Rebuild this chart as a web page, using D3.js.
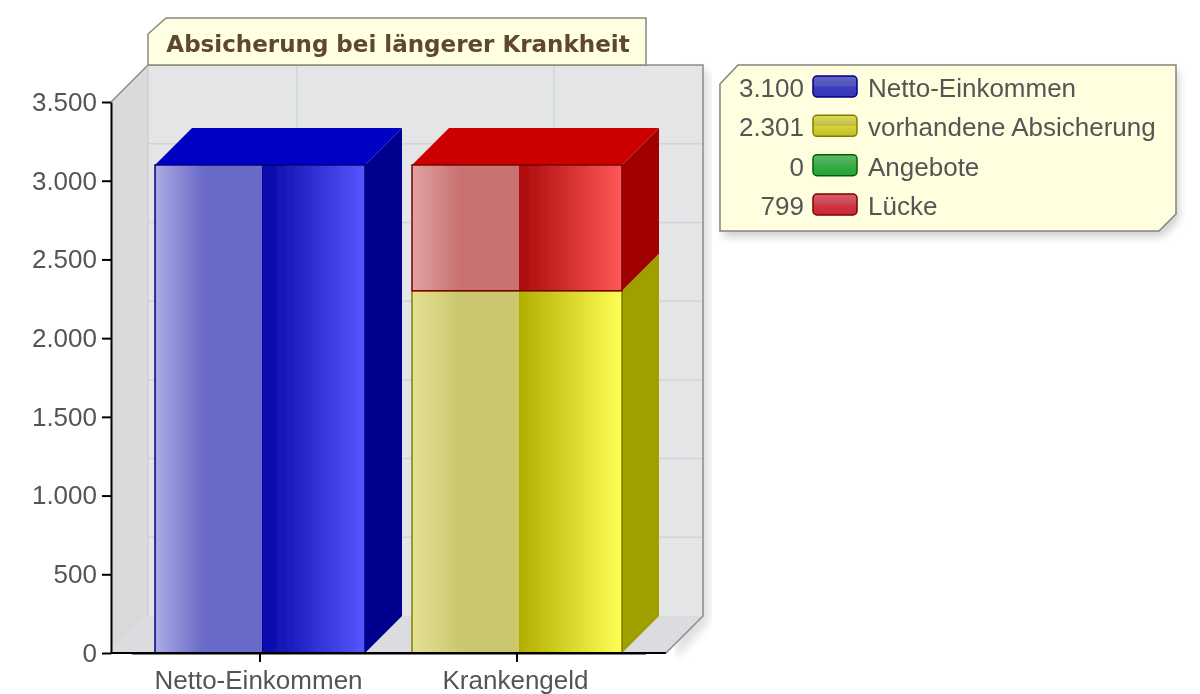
<!DOCTYPE html>
<html>
<head>
<meta charset="utf-8">
<script src="https://cdn.jsdelivr.net/npm/d3@7"></script>
<style>
  html, body { margin: 0; padding: 0; background: #fff; }
  svg { display: block; }
  text { font-family: "Liberation Sans", Arial, sans-serif; }
</style>
</head>
<body>
<div id="chart"></div>
<script>
// chart data
const categories = ["Netto-Einkommen", "Krankengeld"];
const seriesNames = ["Netto-Einkommen", "vorhandene Absicherung", "Angebote", "Lücke"];
const nettoValues = [3100, 0];
const absicherungValues = [0, 2301];
const angeboteValues = [0, 0];
const lueckeValues = [0, 799];
const legendValues = ["3.100", "2.301", "0", "799"];
const yTicks = [0, 500, 1000, 1500, 2000, 2500, 3000, 3500];
const titleText = "Absicherung bei längerer Krankheit";

const seriesValues = [nettoValues, absicherungValues, angeboteValues, lueckeValues];

// face colours per series
const palette = [
  { dark: "#0606a6", light: "#5757ff", paleA: "#acace4", paleB: "#6a6ac8", side: "#00008e", top: "#0000c4", line: "#000080", key: "#3c3cc8" },
  { dark: "#b2ae00", light: "#ffff58", paleA: "#e6e094", paleB: "#cbc76e", side: "#9f9f00", top: "#cccc00", line: "#808000", key: "#d8d230" },
  { dark: "#06a606", light: "#57ff57", paleA: "#ace4ac", paleB: "#6ac86a", side: "#008e00", top: "#00c400", line: "#006000", key: "#30b040" },
  { dark: "#aa0a0a", light: "#ff5858", paleA: "#e2a2a2", paleB: "#c87272", side: "#a00000", top: "#cc0000", line: "#7a0000", key: "#d83040" }
];

const width = 1200;
const height = 694;
const depth = 37;   // 3d offset of the back wall
const plot = { left: 111, right: 666, top: 102, bottom: 653 };
const fontSize = 26;

const svg = d3.select("#chart").append("svg")
    .attr("width", width)
    .attr("height", height);

const y = d3.scaleLinear().domain([0, 3500]).range([plot.bottom, plot.top]);
const x = d3.scaleBand().domain(categories).range([131.5, 645.5])
    .paddingInner(0.183).paddingOuter(0.0915);

const poly = pts => pts.map(p => p.join(",")).join(" ");

const defs = svg.append("defs");
defs.append("filter").attr("id", "shadow")
    .attr("x", "-5%").attr("y", "-5%").attr("width", "112%").attr("height", "115%")
  .append("feGaussianBlur").attr("stdDeviation", 4);
defs.append("filter").attr("id", "soft")
    .attr("x", "-5%").attr("y", "-5%").attr("width", "110%").attr("height", "110%")
  .append("feGaussianBlur").attr("stdDeviation", 0.7);

palette.forEach((c, i) => {
  // the shading only runs over the right half of the front face
  const g = defs.append("linearGradient").attr("id", "face" + i);
  g.append("stop").attr("offset", "0%").attr("stop-color", c.dark);
  g.append("stop").attr("offset", "51%").attr("stop-color", c.dark);
  g.append("stop").attr("offset", "100%").attr("stop-color", c.light);
  const p = defs.append("linearGradient").attr("id", "pale" + i);
  p.append("stop").attr("offset", "0%").attr("stop-color", c.paleA);
  p.append("stop").attr("offset", "45%").attr("stop-color", c.paleB);
  p.append("stop").attr("offset", "100%").attr("stop-color", c.paleB);
  const k = defs.append("linearGradient").attr("id", "key" + i)
      .attr("x1", 0).attr("x2", 0).attr("y1", 0).attr("y2", 1);
  k.append("stop").attr("offset", "0%").attr("stop-color", d3.interpolateRgb(c.key, "#fff")(0.2));
  k.append("stop").attr("offset", "48%").attr("stop-color", d3.interpolateRgb(c.key, "#888")(0.3));
  k.append("stop").attr("offset", "52%").attr("stop-color", c.key);
  k.append("stop").attr("offset", "100%").attr("stop-color", d3.interpolateRgb(c.key, "#000")(0.1));
});

const root = svg.append("g").attr("filter", "url(#soft)");

// drop shadow behind walls and legend
root.append("polygon")
    .attr("points", poly([[plot.right + 10, plot.bottom + 6], [plot.right + depth + 6, plot.bottom - depth + 6], [plot.right + depth + 6, 70], [plot.right + 20, 70]]))
    .attr("fill", "#000").attr("opacity", 0.12).attr("filter", "url(#shadow)");

// walls
const wallTop = y(3500) - depth;
root.append("polygon")
    .attr("points", poly([[plot.left + depth, wallTop], [plot.right + depth, wallTop], [plot.right + depth, plot.bottom - depth], [plot.left + depth, plot.bottom - depth]]))
    .attr("fill", "#e3e5e7");
root.append("polygon")
    .attr("points", poly([[plot.left, y(3500)], [plot.left + depth, wallTop], [plot.left + depth, plot.bottom - depth], [plot.left, plot.bottom]]))
    .attr("fill", "#d9dbdb");
root.append("polygon")
    .attr("points", poly([[plot.left, plot.bottom], [plot.left + depth, plot.bottom - depth], [plot.right + depth, plot.bottom - depth], [plot.right, plot.bottom]]))
    .attr("fill", "#dadcdf");

// grid on the back wall
root.selectAll(".hgrid").data(yTicks.slice(1, -1)).enter().append("line")
    .attr("x1", plot.left + depth).attr("x2", plot.right + depth)
    .attr("y1", d => y(d) - depth).attr("y2", d => y(d) - depth)
    .attr("stroke", "#d2d4d6").attr("stroke-width", 1.5);
root.selectAll(".vgrid").data(categories).enter().append("line")
    .attr("x1", d => x(d) + x.bandwidth() / 2 + depth).attr("x2", d => x(d) + x.bandwidth() / 2 + depth)
    .attr("y1", wallTop).attr("y2", plot.bottom - depth)
    .attr("stroke", "#d2d4d6").attr("stroke-width", 1.5);

// wall outline
root.append("path")
    .attr("d", d3.line()([[plot.left, y(3500)], [plot.left + depth, wallTop], [plot.right + depth, wallTop], [plot.right + depth, plot.bottom - depth], [plot.right, plot.bottom]]))
    .attr("fill", "none").attr("stroke", "#8b8d8b").attr("stroke-width", 1.5);
root.append("line")
    .attr("x1", plot.left + depth).attr("x2", plot.left + depth)
    .attr("y1", wallTop).attr("y2", plot.bottom - depth)
    .attr("stroke", "#c8cacb").attr("stroke-width", 1);

// stacked bars
const rows = categories.map((c, i) => {
  const row = { category: c };
  seriesNames.forEach((s, j) => { row[s] = seriesValues[j][i]; });
  return row;
});
const stacked = d3.stack().keys(seriesNames)(rows);
const bars = root.append("g");

stacked.forEach((layer, i) => {
  const c = palette[i];
  layer.forEach(d => {
    if (d[1] - d[0] <= 0) return;
    const x0 = x(d.data.category);
    const w = x.bandwidth();
    const yTop = y(d[1]);
    const yBase = y(d[0]);
    const g = bars.append("g");
    // right side
    g.append("polygon")
        .attr("points", poly([[x0 + w, yTop], [x0 + w + depth, yTop - depth], [x0 + w + depth, yBase - depth], [x0 + w, yBase]]))
        .attr("fill", c.side);
    // top, only visible on the highest segment
    if (d[1] === d3.sum(seriesValues, v => v[categories.indexOf(d.data.category)])) {
      g.append("polygon")
          .attr("points", poly([[x0, yTop], [x0 + depth, yTop - depth], [x0 + w + depth, yTop - depth], [x0 + w, yTop]]))
          .attr("fill", c.top);
    }
    // front with pale left half
    g.append("rect").attr("x", x0).attr("y", yTop).attr("width", w).attr("height", yBase - yTop)
        .attr("fill", `url(#face${i})`);
    g.append("rect").attr("x", x0).attr("y", yTop).attr("width", w / 2 + 2).attr("height", yBase - yTop)
        .attr("fill", `url(#pale${i})`);
    g.append("rect").attr("x", x0).attr("y", yTop).attr("width", w).attr("height", yBase - yTop)
        .attr("fill", "none").attr("stroke", c.line).attr("stroke-width", 1.5);
  });
});

// axes
const yAxis = root.append("g").attr("transform", `translate(${plot.left},0)`)
    .call(d3.axisLeft(y).tickValues(yTicks).tickSize(9).tickPadding(5).tickSizeOuter(0)
      .tickFormat(d => d3.format(",")(d).replace(",", ".")));
const xAxis = root.append("g").attr("transform", `translate(0,${plot.bottom})`)
    .call(d3.axisBottom(x).tickSize(9).tickPadding(9).tickSizeOuter(0));
xAxis.selectAll("text").attr("dx", -1.5);
root.append("line").attr("x1", plot.left).attr("x2", plot.right).attr("y1", plot.bottom).attr("y2", plot.bottom)
    .attr("stroke", "#000").attr("stroke-width", 2);
[yAxis, xAxis].forEach(a => {
  a.selectAll("line").attr("stroke", "#000").attr("stroke-width", 2);
  a.selectAll("path").attr("stroke", "#000").attr("stroke-width", 2);
  a.selectAll("text").attr("fill", "#555").attr("font-size", fontSize)
      .attr("font-family", "'Liberation Sans', Arial, sans-serif");
});

// title tab
root.append("polygon")
    .attr("points", poly([[148, 34], [166, 18], [646, 18], [646, 65], [148, 65]]))
    .attr("fill", "#ffffe3").attr("stroke", "#8a8a78").attr("stroke-width", 1.5);
root.append("text").attr("x", 398).attr("y", 52).attr("text-anchor", "middle")
    .attr("font-size", 23).attr("font-weight", "bold")
    .style("font-family", "'DejaVu Sans', sans-serif")
    .attr("fill", "#5f4630").text(titleText);

// legend
const legendPts = [[720, 84], [738, 65], [1176, 65], [1176, 214], [1159, 231], [720, 231]];
root.append("polygon")
    .attr("points", poly(legendPts.map(p => [p[0] + 3, p[1] + 6])))
    .attr("fill", "#000").attr("opacity", 0.18).attr("filter", "url(#shadow)");
root.append("polygon")
    .attr("points", poly(legendPts))
    .attr("fill", "#ffffe0").attr("stroke", "#84847a").attr("stroke-width", 1.5);

const rowY = d3.scalePoint().domain(seriesNames).range([87, 205]);
const legendRow = root.selectAll(".legend-row").data(seriesNames).enter().append("g")
    .attr("transform", d => `translate(0,${rowY(d)})`);
legendRow.append("text").attr("x", 804).attr("y", 10).attr("text-anchor", "end")
    .attr("font-size", fontSize).attr("fill", "#555")
    .text((d, i) => legendValues[i]);
legendRow.append("rect").attr("x", 813).attr("y", -11).attr("width", 44).attr("height", 21).attr("rx", 4)
    .attr("fill", (d, i) => `url(#key${i})`)
    .attr("stroke", (d, i) => palette[i].line).attr("stroke-width", 1.5);
legendRow.append("text").attr("x", 868).attr("y", 10)
    .attr("font-size", fontSize).attr("fill", "#555")
    .text(d => d);
</script>
</body>
</html>
